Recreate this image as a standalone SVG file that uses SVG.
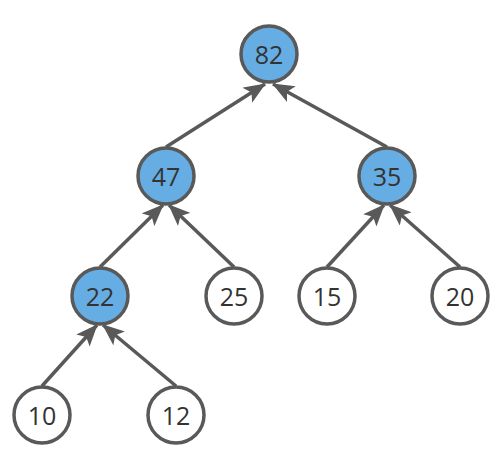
<svg xmlns="http://www.w3.org/2000/svg" width="502" height="458" viewBox="0 0 502 458">
<defs>
<style>
.n circle{stroke:#595959;stroke-width:3.5}
.f circle{fill:#66ade4}
.w circle{fill:#ffffff}
.n text{font-family:"Open Sans","Noto Sans",sans-serif;font-size:25px;fill:#333333;text-anchor:middle;dominant-baseline:central}
.e line{stroke:#595959;stroke-width:3.5;marker-end:url(#ah)}
</style>
<marker id="ah" markerUnits="userSpaceOnUse" markerWidth="22" markerHeight="18" viewBox="0 0 22 18" refX="21" refY="9" orient="auto">
<path d="M0,0 L22,9 L0,18 L5,9 z" fill="#595959"/>
</marker>
</defs>
<rect width="502" height="458" fill="#ffffff"/>
<g id="edges" class="e">
<line x1="166" y1="147" x2="265" y2="84"/>
<line x1="387" y1="147" x2="273" y2="84"/>
<line x1="100" y1="267" x2="163" y2="205"/>
<line x1="234" y1="267" x2="169" y2="205"/>
<line x1="327" y1="267" x2="384" y2="205"/>
<line x1="460" y1="267" x2="390" y2="205"/>
<line x1="42" y1="386" x2="97" y2="325"/>
<line x1="176" y1="386" x2="103" y2="325"/>
</g>
<g id="n82" class="n f"><circle cx="269" cy="54" r="28"/><text x="269" y="54">82</text></g>
<g id="n47" class="n f"><circle cx="166" cy="176" r="28"/><text x="166" y="176">47</text></g>
<g id="n35" class="n f"><circle cx="387" cy="176" r="28"/><text x="387" y="176">35</text></g>
<g id="n22" class="n f"><circle cx="100" cy="296" r="28"/><text x="100" y="296">22</text></g>
<g id="n25" class="n w"><circle cx="234" cy="296" r="28"/><text x="234" y="296">25</text></g>
<g id="n15" class="n w"><circle cx="327" cy="296" r="28"/><text x="327" y="296">15</text></g>
<g id="n20" class="n w"><circle cx="460" cy="296" r="28"/><text x="460" y="296">20</text></g>
<g id="n10" class="n w"><circle cx="42" cy="415" r="28"/><text x="42" y="415">10</text></g>
<g id="n12" class="n w"><circle cx="176" cy="415" r="28"/><text x="176" y="415">12</text></g>
</svg>
